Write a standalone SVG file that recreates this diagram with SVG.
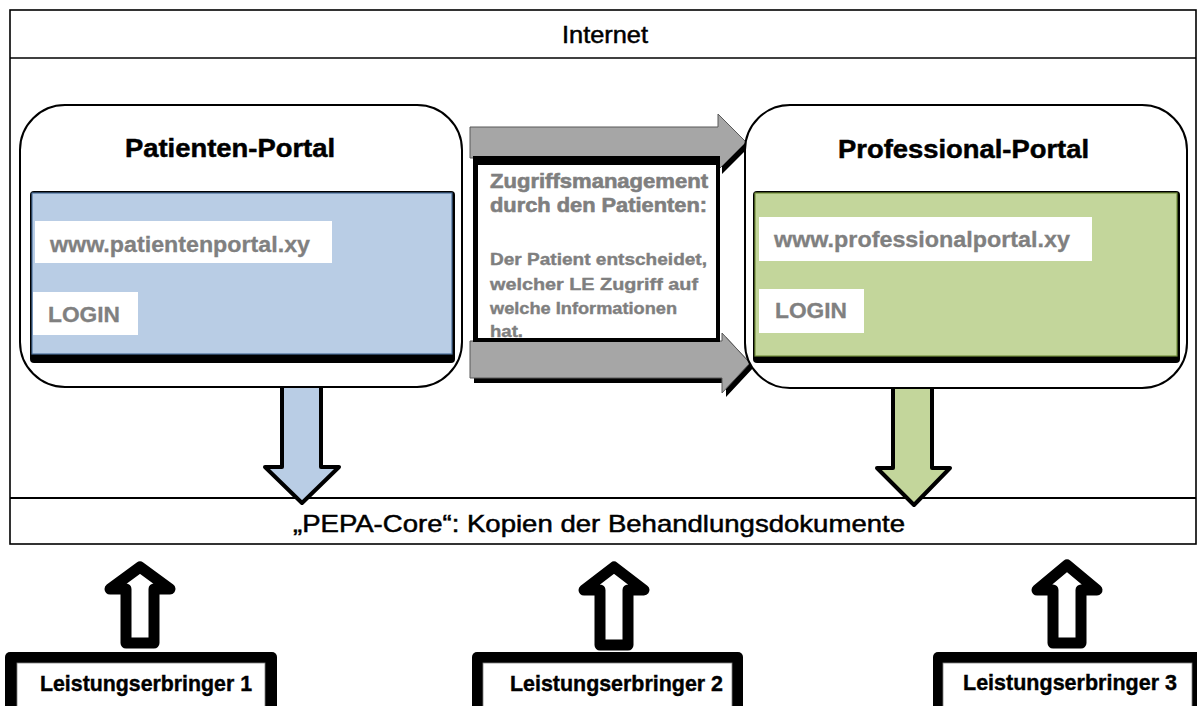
<svg xmlns="http://www.w3.org/2000/svg" width="1197" height="706" viewBox="0 0 1197 706">
  <defs>
    <style>
      .frame { fill: #ffffff; stroke: #000000; stroke-width: 1.6; }
      .portal { fill: #ffffff; stroke: #000000; stroke-width: 2; }
      .title { font-family: "Liberation Sans", Arial, sans-serif; font-weight: bold; font-size: 26px; fill: #000000; stroke: #000000; stroke-width: 0.5; }
      .plain { font-family: "Liberation Sans", Arial, sans-serif; font-size: 24px; fill: #000000; stroke: #000000; stroke-width: 0.5; }
      .field { fill: #ffffff; }
      .fieldtxt { font-family: "Liberation Sans", Arial, sans-serif; font-weight: bold; font-size: 22px; fill: #808080; stroke: #808080; stroke-width: 0.3; }
      .midhead { font-family: "Liberation Sans", Arial, sans-serif; font-weight: bold; font-size: 20px; fill: #7f7f7f; stroke: #7f7f7f; stroke-width: 0.6; }
      .midtxt { font-family: "Liberation Sans", Arial, sans-serif; font-weight: bold; font-size: 17px; fill: #7f7f7f; stroke: #7f7f7f; stroke-width: 0.4; }
      .lbl { font-family: "Liberation Sans", Arial, sans-serif; font-weight: bold; font-size: 22px; fill: #000000; stroke: #000000; stroke-width: 0.4; }
      .hollow { fill: #ffffff; stroke: #000000; stroke-width: 11; stroke-linejoin: round; }
      .down { stroke: #000000; stroke-width: 4; stroke-linejoin: round; }
      .gray { fill: #a6a6a6; stroke: #595959; stroke-width: 1; }
      .shadow { fill: #000000; }
    </style>
  </defs>

  <!-- outer frame: Internet header and core band -->
  <g id="frame">
    <rect class="frame" x="10" y="10" width="1186" height="534"/>
    <line x1="10" y1="58" x2="1196" y2="58" stroke="#000" stroke-width="1.6"/>
    <line x1="10" y1="498" x2="1196" y2="498" stroke="#000" stroke-width="2.2"/>
    <text class="plain" x="562" y="43" textLength="86" lengthAdjust="spacingAndGlyphs">Internet</text>
  </g>

  <g id="pepa-core">
    <text class="plain" x="293" y="532" font-size="25" textLength="612" lengthAdjust="spacingAndGlyphs">„PEPA-Core“: Kopien der Behandlungsdokumente</text>
  </g>

  <!-- connectors -->
  <g id="connectors">
    <!-- gray access arrows (drawn before the access box) -->
    <polygon class="shadow" points="474,131 722,131 722,118 750,146 722,174 722,162 474,162"/>
    <polygon class="gray" points="470,127 718,127 718,114 746,142 718,170 718,158 470,158"/>
    <polygon class="shadow" points="474,345 726,345 726,337 754,367 726,397 726,383 474,383"/>
    <polygon class="gray" points="470,341 722,341 722,333 750,363 722,393 722,378 470,378"/>

    <!-- portal to core arrows -->
    <path class="down" fill="#b9cde5" d="M282,387 L282,467 L265,467 L302,503 L339,467 L321,467 L321,387"/>
    <path class="down" fill="#c3d69b" d="M893,388 L893,468 L877,468 L914,505 L950,468 L932,468 L932,388"/>

    <!-- provider upload arrows -->
    <path class="hollow" d="M126,643 L126,589 L110,589 L140,567 L170,589 L154,589 L154,643 Z"/>
    <path class="hollow" d="M600,645 L600,590 L584,590 L614,567 L644,590 L628,590 L628,645 Z"/>
    <path class="hollow" d="M1053,643 L1053,590 L1037,590 L1067,565 L1097,590 L1081,590 L1081,643 Z"/>
  </g>

  <!-- patient portal -->
  <g id="patienten-portal">
    <rect class="portal" x="20" y="105" width="442" height="282" rx="45" ry="45"/>
    <text class="title" x="125" y="157" textLength="210" lengthAdjust="spacingAndGlyphs">Patienten-Portal</text>
    <rect class="shadow" x="30" y="191" width="425" height="172" rx="4"/>
    <rect x="32" y="193" width="420" height="161" fill="#b9cde5" stroke="#4a6e9a" stroke-width="1.2"/>
    <rect class="field" x="35" y="221" width="297" height="42"/>
    <text class="fieldtxt" x="50" y="252" textLength="260" lengthAdjust="spacingAndGlyphs">www.patientenportal.xy</text>
    <rect class="field" x="33" y="292" width="105" height="43"/>
    <text class="fieldtxt" x="48" y="322" textLength="72" lengthAdjust="spacingAndGlyphs">LOGIN</text>
  </g>

  <!-- professional portal -->
  <g id="professional-portal">
    <rect class="portal" x="745" y="105" width="442" height="283" rx="45" ry="45"/>
    <text class="title" x="838" y="158" textLength="251" lengthAdjust="spacingAndGlyphs">Professional-Portal</text>
    <rect class="shadow" x="753" y="191" width="427" height="172" rx="4"/>
    <rect x="755" y="193" width="422" height="163" fill="#c3d69b" stroke="#76923c" stroke-width="1.2"/>
    <rect class="field" x="759" y="217" width="333" height="44"/>
    <text class="fieldtxt" x="774" y="247" textLength="296" lengthAdjust="spacingAndGlyphs">www.professionalportal.xy</text>
    <rect class="field" x="759" y="289" width="105" height="44"/>
    <text class="fieldtxt" x="775" y="318" textLength="72" lengthAdjust="spacingAndGlyphs">LOGIN</text>
  </g>

  <!-- access management box -->
  <g id="zugriffsmanagement">
    <rect class="shadow" x="473" y="156" width="247" height="186"/>
    <rect x="478" y="165" width="238" height="173" fill="#ffffff"/>
    <text class="midhead" x="490" y="188" textLength="218" lengthAdjust="spacingAndGlyphs">Zugriffsmanagement</text>
    <text class="midhead" x="490" y="212" textLength="217" lengthAdjust="spacingAndGlyphs">durch den Patienten:</text>
    <text class="midtxt" x="490" y="265" textLength="217" lengthAdjust="spacingAndGlyphs">Der Patient entscheidet,</text>
    <text class="midtxt" x="490" y="290" textLength="208" lengthAdjust="spacingAndGlyphs">welcher LE Zugriff auf</text>
    <text class="midtxt" x="490" y="314" textLength="187" lengthAdjust="spacingAndGlyphs">welche Informationen</text>
    <text class="midtxt" x="490" y="337" textLength="33" lengthAdjust="spacingAndGlyphs">hat.</text>
  </g>

  <!-- service providers -->
  <g id="le1">
    <rect class="shadow" x="5" y="652" width="272" height="70" rx="5"/>
    <rect x="17" y="663" width="248" height="52" fill="#ffffff" stroke="#808080" stroke-width="0.8"/>
    <text class="lbl" x="40" y="691" textLength="212" lengthAdjust="spacingAndGlyphs">Leistungserbringer 1</text>
  </g>
  <g id="le2">
    <rect class="shadow" x="472" y="652" width="271" height="70" rx="5"/>
    <rect x="483" y="663" width="249" height="52" fill="#ffffff" stroke="#808080" stroke-width="0.8"/>
    <text class="lbl" x="510" y="691" textLength="213" lengthAdjust="spacingAndGlyphs">Leistungserbringer 2</text>
  </g>
  <g id="le3">
    <rect class="shadow" x="933" y="652" width="270" height="70" rx="5"/>
    <rect x="943" y="663" width="249" height="52" fill="#ffffff" stroke="#808080" stroke-width="0.8"/>
    <text class="lbl" x="963" y="690" textLength="214" lengthAdjust="spacingAndGlyphs">Leistungserbringer 3</text>
  </g>
</svg>
